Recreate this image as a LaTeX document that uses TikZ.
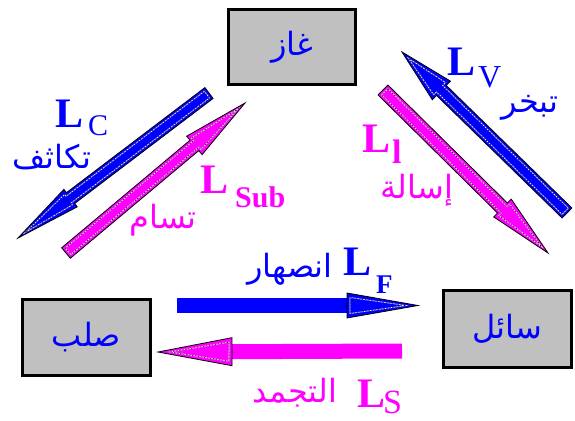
\documentclass[tikz,border=0pt]{standalone}
\usepackage{fontspec}
\setmainfont{Liberation Serif}
\newfontfamily\arabicfont[Script=Arabic]{DejaVu Sans}
\TeXXeTstate=1
\usetikzlibrary{calc}
\definecolor{myblue}{RGB}{0,0,255}
\definecolor{mymag}{RGB}{255,0,255}
\definecolor{boxgray}{RGB}{192,192,192}

% diagonal fat arrow: #1 tail, #2 tip, #3 colour, #4 shaft half width, #5 head half width, #6 head length, #7 prefix
\newcommand{\fatarrow}[7]{%
  \pgfmathsetmacro\fawi{#4-2.6}%
  \pgfmathsetmacro\fahi{#5-4.5}%
  \pgfmathsetmacro\fahl{#6-2.5}%
  \coordinate (#7-b) at ($(#2)!#6pt!(#1)$);
  \coordinate (#7-bi) at ($(#2)!\fahl pt!(#1)$);
  \coordinate (#7-ti) at ($(#1)!2.6pt!(#2)$);
  \coordinate (#7-pi) at ($(#2)!9pt!(#1)$);
  \filldraw[fill=#3, draw=black, line width=0.8pt, line join=miter]
    ($(#1)!#4pt!90:(#2)$) -- ($(#7-b)!#4pt!90:(#2)$) -- ($(#7-b)!#5pt!90:(#2)$)
    -- (#2) -- ($(#7-b)!#5pt!-90:(#2)$) -- ($(#7-b)!#4pt!-90:(#2)$)
    -- ($(#1)!#4pt!-90:(#2)$) -- cycle;
  \draw[innerline]
    ($(#7-ti)!\fawi pt!90:(#2)$) -- ($(#7-bi)!\fawi pt!90:(#2)$) -- ($(#7-bi)!\fahi pt!90:(#2)$)
    -- (#7-pi) -- ($(#7-bi)!\fahi pt!-90:(#2)$) -- ($(#7-bi)!\fawi pt!-90:(#2)$)
    -- ($(#7-ti)!\fawi pt!-90:(#2)$) -- cycle;
  \draw[innerdash]
    ($(#7-ti)!\fawi pt!90:(#2)$) -- ($(#7-bi)!\fawi pt!90:(#2)$) -- ($(#7-bi)!\fahi pt!90:(#2)$)
    -- (#7-pi) -- ($(#7-bi)!\fahi pt!-90:(#2)$) -- ($(#7-bi)!\fawi pt!-90:(#2)$)
    -- ($(#7-ti)!\fawi pt!-90:(#2)$) -- cycle;
}
% horizontal arrow: outline only round the head
\newcommand{\flatarrow}[7]{%
  \pgfmathsetmacro\fahi{#5-4.5}%
  \pgfmathsetmacro\fahl{#6-3}%
  \coordinate (#7-b) at ($(#2)!#6pt!(#1)$);
  \coordinate (#7-bi) at ($(#2)!\fahl pt!(#1)$);
  \coordinate (#7-pi) at ($(#2)!12pt!(#1)$);
  \fill[#3] ($(#1)!#4pt!90:(#2)$) -- ($(#7-b)!#4pt!90:(#2)$) -- ($(#7-b)!#4pt!-90:(#2)$)
    -- ($(#1)!#4pt!-90:(#2)$) -- cycle;
  \filldraw[fill=#3, draw=black, line width=0.8pt, line join=miter]
    ($(#7-b)!#5pt!90:(#2)$) -- (#2) -- ($(#7-b)!#5pt!-90:(#2)$) -- cycle;
  \draw[innerline] ($(#7-bi)!\fahi pt!90:(#2)$) -- (#7-pi) -- ($(#7-bi)!\fahi pt!-90:(#2)$) -- cycle;
  \draw[innerdash] ($(#7-bi)!\fahi pt!90:(#2)$) -- (#7-pi) -- ($(#7-bi)!\fahi pt!-90:(#2)$) -- cycle;
}

\tikzset{
  innerline/.style={white, line width=0.7pt},
  innerdash/.style={black, line width=0.5pt, dash pattern=on 1.5pt off 1.5pt},
  statebox/.style={draw=black, line width=3pt, fill=boxgray, text=myblue, inner sep=0pt,
    font=\arabicfont\fontsize{32}{32}\selectfont},
  arlabel/.style={inner sep=0pt, font=\arabicfont\fontsize{32}{32}\selectfont},
  Llabel/.style={inner sep=0pt, anchor=base west, font=\fontsize{42}{42}\selectfont\bfseries},
}

\begin{document}
\begin{tikzpicture}[x=1pt, y=-1pt]
\useasboundingbox (0,0) rectangle (575,420);

% state boxes
\node[statebox, minimum width=127pt, minimum height=75pt] (gas) at (292,47) {\beginR غاز\endR};
\node[statebox, minimum width=128pt, minimum height=76pt] (solid) at (86.5,337.5) {\beginR صلب\endR};
\node[statebox, minimum width=128pt, minimum height=77pt] (liquid) at (507.5,329) {\beginR سائل\endR};

% arrow end points
\coordinate (cT) at (209,93);   \coordinate (cP) at (18,238);
\coordinate (sT) at (66,253);   \coordinate (sP) at (245,103);
\coordinate (vT) at (567,213);  \coordinate (vP) at (402,52);
\coordinate (lT) at (383,90);   \coordinate (lP) at (548,253);
\coordinate (fT) at (177,305.5);\coordinate (fP) at (418,305.5);
\coordinate (dT) at (402,351);  \coordinate (dP) at (158,352);

\fatarrow{cT}{cP}{myblue}{6.8}{11}{66}{ac}
\fatarrow{sT}{sP}{mymag}{6.8}{12}{66}{as}
\fatarrow{vT}{vP}{myblue}{7}{13}{55}{av}
\fatarrow{lT}{lP}{mymag}{7}{12.5}{64}{al}
\flatarrow{fT}{fP}{myblue}{7.5}{12.5}{71}{af}
\flatarrow{dT}{dP}{mymag}{7.5}{14}{74}{ad}

% latin labels
\node[Llabel, text=myblue] (LC) at (55,127) {L\hspace{5pt}\raisebox{-8pt}{\fontsize{30}{30}\selectfont\mdseries C}};
\node[Llabel, text=mymag] (LSub) at (200,193) {L\hspace{7pt}\raisebox{-14pt}{\fontsize{30}{30}\selectfont Sub}};
\node[Llabel, text=myblue] (LV) at (447,75) {L\hspace{3pt}\raisebox{-12pt}{\fontsize{32}{32}\selectfont\mdseries V}};
\node[Llabel, text=mymag] (Ll) at (362,152) {L\hspace{2pt}\raisebox{-11pt}{\fontsize{34}{34}\selectfont l}};
\node[Llabel, text=myblue] (LF) at (343,275) {L\hspace{5pt}\raisebox{-18pt}{\fontsize{27}{27}\selectfont F}};
\node[Llabel, text=mymag] (LS) at (357,407) {L\hspace{-2pt}\raisebox{-6pt}{\fontsize{34}{34}\selectfont\mdseries S}};

% arabic labels
\node[arlabel, text=myblue] (tc) at (52,157) {\beginR تكاثف\endR};
\node[arlabel, text=mymag] (ts) at (163,220) {\beginR تسام\endR};
\node[arlabel, text=myblue] (tv) at (530,108) {\beginR تبخر\endR};
\node[arlabel, text=mymag] (tl) at (417,190) {\beginR إسالة\endR};
\node[arlabel, text=myblue] (tf) at (290,269) {\beginR انصهار\endR};
\node[arlabel, text=mymag] (td) at (295,393) {\beginR التجمد\endR};
\end{tikzpicture}
\end{document}
